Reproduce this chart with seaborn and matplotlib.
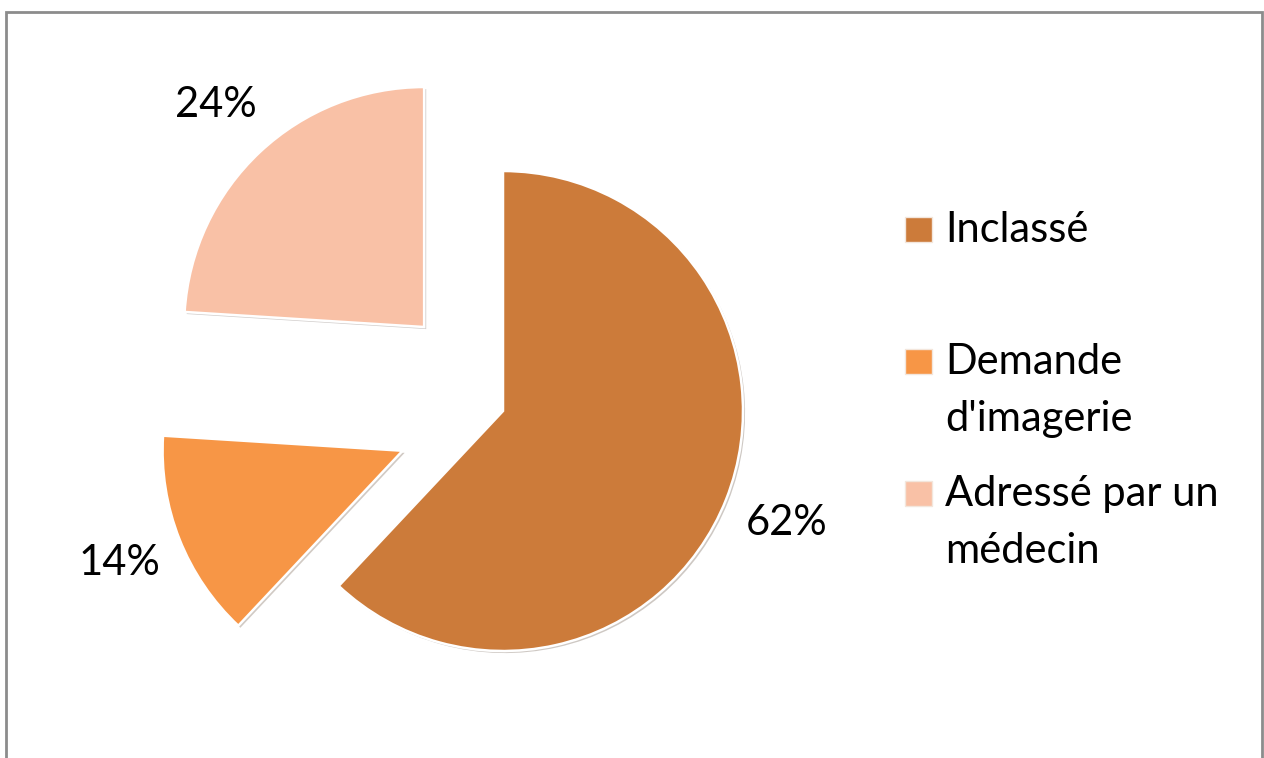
import matplotlib
matplotlib.use("Agg")
import matplotlib.pyplot as plt
import matplotlib.patheffects as pe
from matplotlib.patches import Rectangle
import seaborn as sns

# data
categories = ["Inclassé", "Demande d'imagerie", "Adressé par un médecin"]
legend_labels = ["Inclassé", "Demande\nd'imagerie", "Adressé par un\nmédecin"]
shares = [62, 14, 24]
colors = ["#CC7B3A", "#F79646", "#F9C1A6"]
explode = [0.0, 0.45, 0.48]

sns.set_theme(style="white")
plt.rcParams['font.family'] = ['Lato', 'DejaVu Sans']

W, H = 1264, 758
fig = plt.figure(figsize=(W / 100, H / 100), dpi=100)
fig.patch.set_facecolor("white")

# axes covering the whole figure, 1 data unit = radius (240 px)
R = 240
cx, cy = 503, 411
ax = fig.add_axes([0, 0, 1, 1])

wedges, texts, autotexts = ax.pie(
    shares, colors=sns.color_palette(colors), explode=explode,
    startangle=90, counterclock=False,
    autopct=lambda p: f"{p:.0f}%", pctdistance=1.27,
    wedgeprops=dict(edgecolor="white", linewidth=1.8),
    textprops=dict(fontsize=30, color="black"))
for w in wedges:
    w.set_path_effects([pe.SimplePatchShadow(offset=(1.5, -1.5), alpha=0.25), pe.Normal()])

ax.set_xlim(-cx / R, (W - cx) / R)
ax.set_ylim(-(H - cy) / R, cy / R)
ax.set_aspect("auto")
ax.axis("off")

# legend, drawn as in the original (marker on first text line)
def fx(px):
    return px / W

def fy(py):
    return 1 - py / H

for i, (lab, col) in enumerate(zip(legend_labels, colors)):
    base = 242 + i * 132
    fig.add_artist(Rectangle((fx(905), fy(base)), 27 / W, 25 / H,
                             transform=fig.transFigure, facecolor=col,
                             edgecolor="#f3e6dc", linewidth=1))
    for j, line in enumerate(lab.split("\n")):
        fig.text(fx(945), fy(base + j * 57), line, fontsize=30,
                 va="baseline", ha="left", color="black")

# outer chart frame
fig.add_artist(Rectangle((fx(6), -0.05), (1262 - 6) / W, fy(12) + 0.05,
                         transform=fig.transFigure, fill=False,
                         edgecolor="#8c8c8c", linewidth=2))

fig.savefig("out.png", dpi=100, facecolor="white")
